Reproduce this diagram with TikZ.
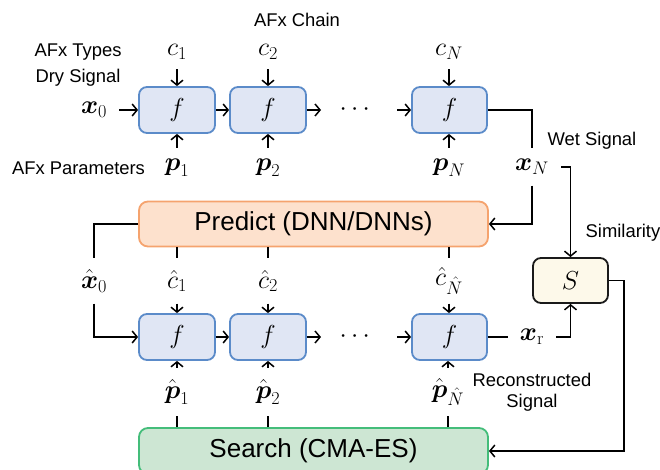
\RequirePackage{fix-cm}
\documentclass[tikz,border=0pt]{standalone}
\usepackage{amsmath}
\usepackage[no-math]{fontspec}
\setmainfont{Liberation Sans}
\usetikzlibrary{arrows.meta}

\definecolor{ffill}{HTML}{E0E6F4}
\definecolor{fstroke}{HTML}{5B8BC9}
\definecolor{pfill}{HTML}{FDE1CD}
\definecolor{pstroke}{HTML}{F5A36E}
\definecolor{sfill}{HTML}{CDE6D3}
\definecolor{sstroke}{HTML}{44BD7A}
\definecolor{simfill}{HTML}{FDF9EA}
\definecolor{simstroke}{HTML}{1A1A1A}

\begin{document}
\begin{tikzpicture}[x=1pt,y=-1pt,
  wire/.style={line width=1.5pt, line join=miter},
  arr/.style={wire, -{Straight Barb[length=5pt,width=12pt]}},
  fbox/.style={draw=fstroke, fill=ffill, line width=1.8pt, rounded corners=8pt,
    minimum width=76pt, minimum height=46pt, inner sep=0pt,
    font=\fontsize{26}{30}\selectfont},
  bigbox/.style={line width=1.8pt, rounded corners=9pt, minimum width=349pt,
    minimum height=45pt, inner sep=0pt, font=\fontsize{26}{30}\selectfont},
  mlab/.style={inner xsep=0pt, inner ysep=0pt, font=\fontsize{26}{30}\selectfont},
  tlab/.style={inner sep=0pt, font=\fontsize{18.4}{22}\selectfont, align=center}
]
\useasboundingbox (0,0) rectangle (660,469);

% top chain of effects
\node[fbox] (f1) at (177,110) {$f$};
\node[fbox] (f2) at (268,110) {$f$};
\node[fbox, minimum width=75pt] (fN) at (449.5,110) {$f$};
\node[mlab, inner xsep=12pt] (x0) at (94,110) {$\boldsymbol{x}_0$};
\node[mlab] (dots) at (357,110) {$\cdots$};
\coordinate (a1) at (321,110);
\coordinate (a2) at (397,110);

\node[mlab, minimum height=34pt] (c1) at (177,52) {$c_1$};
\node[mlab, minimum height=34pt] (c2) at (268,52) {$c_2$};
\node[mlab, minimum height=34pt] (cN) at (449,52) {$c_N$};
\node[mlab, minimum height=40pt] (p1) at (177,168) {$\boldsymbol{p}_1$};
\node[mlab, minimum height=40pt] (p2) at (268,168) {$\boldsymbol{p}_2$};
\node[mlab, minimum height=40pt] (pN) at (449,168) {$\boldsymbol{p}_N$};
\node[mlab, minimum height=37pt, inner xsep=12pt] (xN) at (532,167) {$\boldsymbol{x}_N$};

% text labels
\node[tlab] (chain) at (297,20) {AFx Chain};
\node[tlab] (types) at (78,52) {AFx Types};
\node[tlab] (dry) at (78,78) {Dry Signal};
\node[tlab] (params) at (78.5,168) {AFx Parameters};
\node[tlab] (wet) at (592,141) {Wet Signal};
\node[tlab] (simlab) at (623,233) {Similarity};
\node[tlab] (recon) at (532,392) {Reconstructed\\[-1pt]Signal};

% predictor, similarity, search
\node[bigbox, draw=pstroke, fill=pfill] (pred) at (313.5,224) {Predict (DNN/DNNs)};
\node[bigbox, draw=sstroke, fill=sfill, minimum height=46pt] (search) at (313.5,451) {Search (CMA-ES)};
\node[fbox, draw=simstroke, fill=simfill, minimum width=75pt, minimum height=45pt] (S) at (570.5,280.5) {$S$};

% reconstructed chain
\node[mlab, minimum height=45pt] (hx0) at (94,281) {$\hat{\boldsymbol{x}}_0$};
\node[mlab, minimum height=45pt] (hc1) at (177,281) {$\hat{c}_1$};
\node[mlab, minimum height=45pt] (hc2) at (268,281) {$\hat{c}_2$};
\node[mlab, minimum height=45pt] (hcN) at (449,281) {$\hat{c}_{\hat{N}}$};
\node[fbox] (g1) at (177,337) {$f$};
\node[fbox] (g2) at (268,337) {$f$};
\node[fbox, minimum width=75pt] (gN) at (449.5,337) {$f$};
\node[mlab] (dotsb) at (357,337) {$\cdots$};
\coordinate (b1) at (321,337);
\coordinate (b2) at (397,337);
\node[mlab, minimum height=48pt] (hp1) at (177,392) {$\hat{\boldsymbol{p}}_1$};
\node[mlab, minimum height=48pt] (hp2) at (268,392) {$\hat{\boldsymbol{p}}_2$};
\node[mlab, minimum height=48pt] (hpN) at (448,392) {$\hat{\boldsymbol{p}}_{\hat{N}}$};
\node[mlab, inner xsep=12pt] (xr) at (532,337) {$\boldsymbol{x}_{\mathrm{r}}$};

% connectors: top chain
\draw[arr] (x0.east) -- (f1.west);
\draw[arr] (f1.east) -- (f2.west);
\draw[arr] (f2.east) -- (a1);
\draw[arr] (a2) -- (fN.west);
\foreach \c/\f/\p in {c1/f1/p1, c2/f2/p2, cN/fN/pN}{
  \draw[arr] (\c.south) -- (\c |- \f.north);
  \draw[arr] (\p.north) -- (\p |- \f.south);
}
\draw[wire] (fN.east) -| (xN.north);
\draw[arr] (xN.south) |- (pred.east);
\draw[arr] (xN.east) -| (S.north);

% connectors: prediction and reconstruction
\draw[wire] (pred.west) -| (hx0.north);
\draw[arr] (hx0.south) |- (g1.west);
\foreach \c/\g/\p in {hc1/g1/hp1, hc2/g2/hp2, hcN/gN/hpN}{
  \draw[wire] (\c |- pred.south) -- (\c.north);
  \draw[arr] (\c.south) -- (\c |- \g.north);
  \draw[arr] (\p.north) -- (\p |- \g.south);
  \draw[wire] (\p |- search.north) -- (\p.south);
}
\draw[arr] (g1.east) -- (g2.west);
\draw[arr] (g2.east) -- (b1);
\draw[arr] (b2) -- (gN.west);
\draw[wire] (gN.east) -- (xr.west);
\draw[arr] (xr.east) -| (S.south);
\draw[arr] (S.east) -- ++(15,0) |- (search.east);
\end{tikzpicture}
\end{document}
